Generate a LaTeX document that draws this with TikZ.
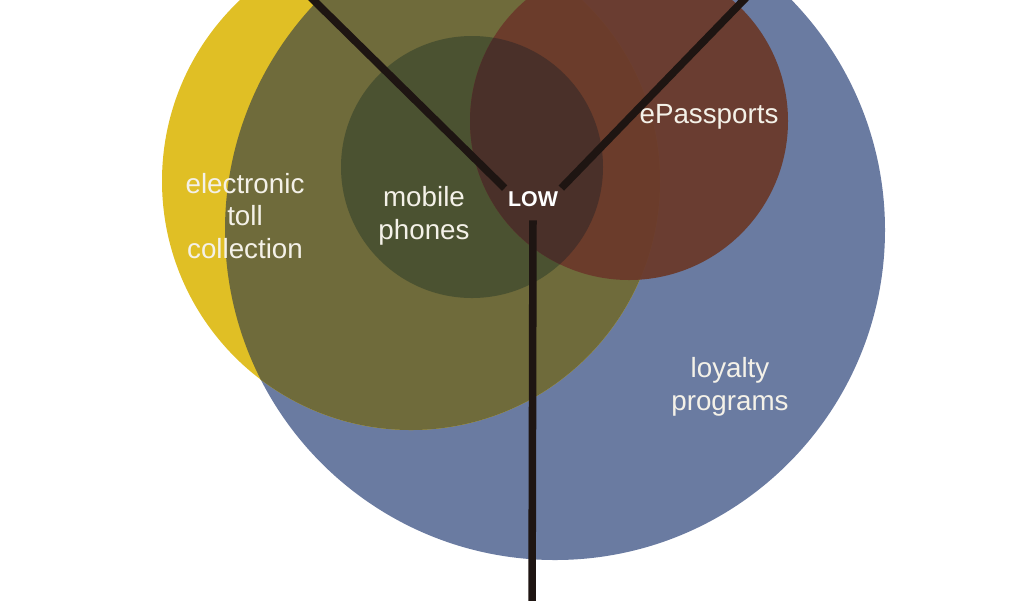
\documentclass[tikz,border=0pt]{standalone}
\usepackage{fontspec}
\setmainfont{Liberation Sans}
\definecolor{tagBlue}{HTML}{6A7BA1}
\definecolor{tagYellow}{HTML}{E0BF25}
\definecolor{tagOlive}{HTML}{6F6B3B}
\definecolor{tagGreen}{HTML}{4B5231}
\definecolor{tagBrown}{HTML}{6B3A2B}
\definecolor{tagShade}{HTML}{4A3029}
\definecolor{tagInk}{HTML}{1E1512}
\definecolor{tagText}{HTML}{F4F1E8}
\tikzset{
  tag diagram/.style={
    x=0.02cm, y=-0.02cm,
    every node/.style={font=\fontsize{15.8}{18.7}\selectfont,
      text=tagText, align=center, inner sep=0pt, outer sep=0pt}
  },
  tag spoke/.style={draw=tagInk, line width=4.3pt, line cap=butt},
  tag hub/.style={font=\bfseries\fontsize{12.2}{14}\selectfont,
    text=white, inner sep=1.9pt}
}
\newcommand{\TagDisc}[3]{%
  \fill[#1] (#2) circle[radius=#3];
}

\begin{document}
\begin{tikzpicture}[tag diagram]
  \useasboundingbox (0,0) rectangle (1024,600);
  \clip (0,0) rectangle (1024,600);
  \coordinate (loyal) at (555,230);
  \coordinate (toll) at (411,181);
  \coordinate (phone) at (472,167);
  \coordinate (pass) at (629,121);

  \TagDisc{tagBlue}{loyal}{330}
  \TagDisc{tagYellow}{toll}{249}
  \begin{scope}
    \clip (loyal) circle[radius=330];
    \TagDisc{tagOlive}{toll}{249}
  \end{scope}
  \TagDisc{tagGreen}{phone}{131}
  \TagDisc{tagBrown,opacity=0.94}{pass}{159}
  \begin{scope}
    \clip (phone) circle[radius=131];
    \TagDisc{tagShade}{pass}{159}
  \end{scope}

  \node[tag hub] (low) at (533,199) {LOW};
  \coordinate (rimW) at (290,-23);
  \coordinate (rimE) at (766,-23);
  \coordinate (rimS) at (532,620);
  \draw[tag spoke] (low.north west) -- (rimW);
  \draw[tag spoke] (low.north east) -- (rimE);
  \draw[tag spoke, shorten <=6pt] (low.south) -- (rimS);

  \node (tollText) at (245,216) {electronic\\toll\\collection};
  \node (phoneText) at (424,216) {mobile\\phones};
  \node (passText) at (709,117) {ePassports};
  \node (loyalText) at (730,387) {loyalty\\programs};
\end{tikzpicture}
\end{document}
